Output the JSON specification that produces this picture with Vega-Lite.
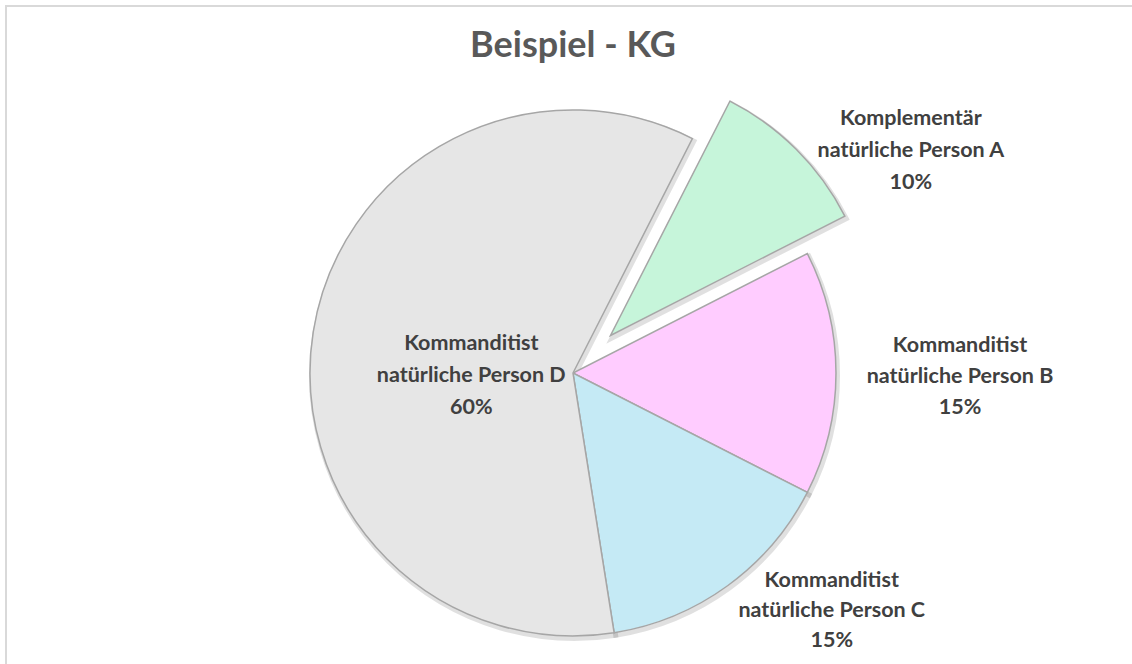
{
  "$schema": "https://vega.github.io/schema/vega-lite/v6.json",
  "autosize": "none",
  "padding": {"left": 6, "top": 6, "right": 0, "bottom": 0},
  "width": 1126,
  "height": 658,
  "background": "white",
  "view": {"stroke": "#d9d9d9", "strokeWidth": 2, "fill": "white", "strokeDash": [1127, 1783, 659, 0]},
  "title": {"text": "Beispiel - KG", "font": "Lato", "fontSize": 36, "fontWeight": "bold", "color": "#595959", "anchor": "middle", "frame": "group", "offset": 0, "baseline": "alphabetic", "dy": 87, "dx": 4},
  "data": {"values": [
    {"key": "A", "order": 1, "anteil": 10, "label": "Komplementär\nnatürliche Person A\n10%"},
    {"key": "B", "order": 2, "anteil": 15, "label": "Kommanditist\nnatürliche Person B\n15%"},
    {"key": "C", "order": 3, "anteil": 15, "label": "Kommanditist\nnatürliche Person C\n15%"},
    {"key": "D", "order": 4, "anteil": 60, "label": "Kommanditist\nnatürliche Person D\n60%"}
  ]},
  "encoding": {
    "theta": {"field": "anteil", "type": "quantitative", "stack": true, "scale": {"range": [0.4712, 6.7544]}},
    "order": {"field": "order", "type": "quantitative"}
  },
  "layer": [
    {
      "mark": {"type": "arc", "radius": 263, "fill": "transparent", "stroke": "#000000", "strokeOpacity": 0.12, "strokeWidth": 5, "xOffset": 5.5, "yOffset": 40.5},
      "encoding": {"opacity": {"condition": {"test": "datum.key === 'A'", "value": 0}, "value": 1}}
    },
    {
      "mark": {"type": "arc", "radius": 263, "fill": "transparent", "stroke": "#000000", "strokeOpacity": 0.12, "strokeWidth": 5, "xOffset": 43, "yOffset": 3},
      "encoding": {"opacity": {"condition": {"test": "datum.key === 'A'", "value": 1}, "value": 0}}
    },
    {
      "mark": {"type": "arc", "radius": 263, "stroke": "#a6a6a6", "strokeWidth": 1.5, "xOffset": 4, "yOffset": 38},
      "encoding": {
        "color": {"field": "key", "type": "nominal", "scale": {"domain": ["A", "B", "C", "D"], "range": ["#c6f5da", "#ffccff", "#c5eaf5", "#e6e6e6"]}, "legend": null},
        "opacity": {"condition": {"test": "datum.key === 'A'", "value": 0}, "value": 1}
      }
    },
    {
      "mark": {"type": "arc", "radius": 263, "stroke": "#a6a6a6", "strokeWidth": 1.5, "xOffset": 41.5, "yOffset": 0.5},
      "encoding": {
        "color": {"field": "key", "type": "nominal", "scale": {"domain": ["A", "B", "C", "D"], "range": ["#c6f5da", "#ffccff", "#c5eaf5", "#e6e6e6"]}, "legend": null},
        "opacity": {"condition": {"test": "datum.key === 'A'", "value": 1}, "value": 0}
      }
    },
    {
      "mark": {"type": "text", "radius": 400, "dx": 59, "dy": 67, "font": "Lato", "fontSize": 21.5, "fontWeight": "bold", "fill": "#404040", "lineBreak": "\n", "lineHeight": 32, "align": "center", "baseline": "middle"},
      "encoding": {"text": {"condition": {"test": "datum.key === 'A'", "field": "label", "type": "nominal"}, "value": ""}}
    },
    {
      "mark": {"type": "text", "radius": 387, "dx": 4, "dy": 11, "font": "Lato", "fontSize": 21.5, "fontWeight": "bold", "fill": "#404040", "lineBreak": "\n", "lineHeight": 31, "align": "center", "baseline": "middle"},
      "encoding": {"text": {"condition": {"test": "datum.key === 'B'", "field": "label", "type": "nominal"}, "value": ""}}
    },
    {
      "mark": {"type": "text", "radius": 350, "dx": 57, "dy": -37, "font": "Lato", "fontSize": 21.5, "fontWeight": "bold", "fill": "#404040", "lineBreak": "\n", "lineHeight": 30, "align": "center", "baseline": "middle"},
      "encoding": {"text": {"condition": {"test": "datum.key === 'C'", "field": "label", "type": "nominal"}, "value": ""}}
    },
    {
      "mark": {"type": "text", "radius": 103, "dx": 4, "dy": 25, "font": "Lato", "fontSize": 21.5, "fontWeight": "bold", "fill": "#404040", "lineBreak": "\n", "lineHeight": 32, "align": "center", "baseline": "middle"},
      "encoding": {"text": {"condition": {"test": "datum.key === 'D'", "field": "label", "type": "nominal"}, "value": ""}}
    }
  ]
}
